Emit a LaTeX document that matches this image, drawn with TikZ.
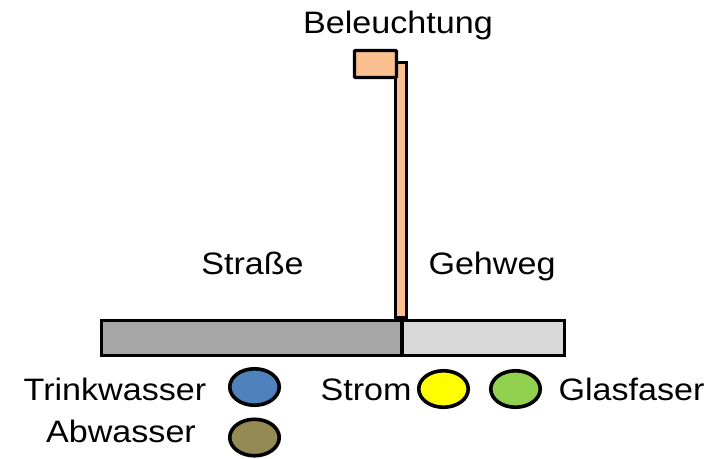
\documentclass[tikz,border=0pt]{standalone}
\usepackage{fontspec}
\usepackage{graphicx}
\setmainfont{Liberation Sans}
\usetikzlibrary{shapes.geometric}
\definecolor{roadgray}{HTML}{A6A6A6}
\definecolor{walkgray}{HTML}{D9D9D9}
\definecolor{peach}{HTML}{FAC090}
\definecolor{water}{HTML}{4F81BD}
\definecolor{sewage}{HTML}{948A54}
\definecolor{power}{HTML}{FFFF00}
\definecolor{fiber}{HTML}{92D050}
\newcommand{\lbltxt}[1]{\scalebox{1.1}[1]{#1}}
\tikzset{
  lbl/.style={anchor=base, inner sep=0pt, font=\fontsize{31}{36}\selectfont},
  part/.style={draw=black, line width=3.3pt},
  pipe/.style={part, line width=3.6pt, ellipse, minimum width=49.5pt, minimum height=36.5pt, inner sep=0pt}
}
\begin{document}
\begin{tikzpicture}[x=1pt,y=-1pt]
\useasboundingbox (0,0) rectangle (727,458);
% pole
\draw[part, fill=peach] (395.5,318) rectangle (406.5,62.5) coordinate (poletop);
% lamp head
\draw[part, fill=peach, rounded corners=1pt] (354.5,50.5) rectangle (396.5,77.5) coordinate (lamp);
% road and sidewalk
\draw[part, fill=roadgray] (101.5,320.5) rectangle (402,355.5) coordinate (road);
\draw[part, fill=walkgray] (402,320.5) rectangle (564.5,355.5) coordinate (walk);
% labels
\node[lbl] (beleuchtung) at (398,33) {\lbltxt{Beleuchtung}};
\node[lbl] (strasse) at (252.5,274) {\lbltxt{Straße}};
\node[lbl] (gehweg) at (492,274) {\lbltxt{Gehweg}};
\node[lbl] (trinkwasser) at (115,400) {\lbltxt{Trinkwasser}};
\node[lbl] (abwasser) at (121,442) {\lbltxt{Abwasser}};
\node[lbl] (strom) at (366,400) {\lbltxt{Strom}};
\node[lbl] (glasfaser) at (631.5,400) {\lbltxt{Glasfaser}};
% utility pipes
\node[pipe, fill=water] (p-water) at (254.5,387) {};
\node[pipe, fill=sewage] (p-sewage) at (254.5,437.5) {};
\node[pipe, fill=power] (p-power) at (443.5,389) {};
\node[pipe, fill=fiber] (p-fiber) at (515.5,389) {};
\end{tikzpicture}
\end{document}
